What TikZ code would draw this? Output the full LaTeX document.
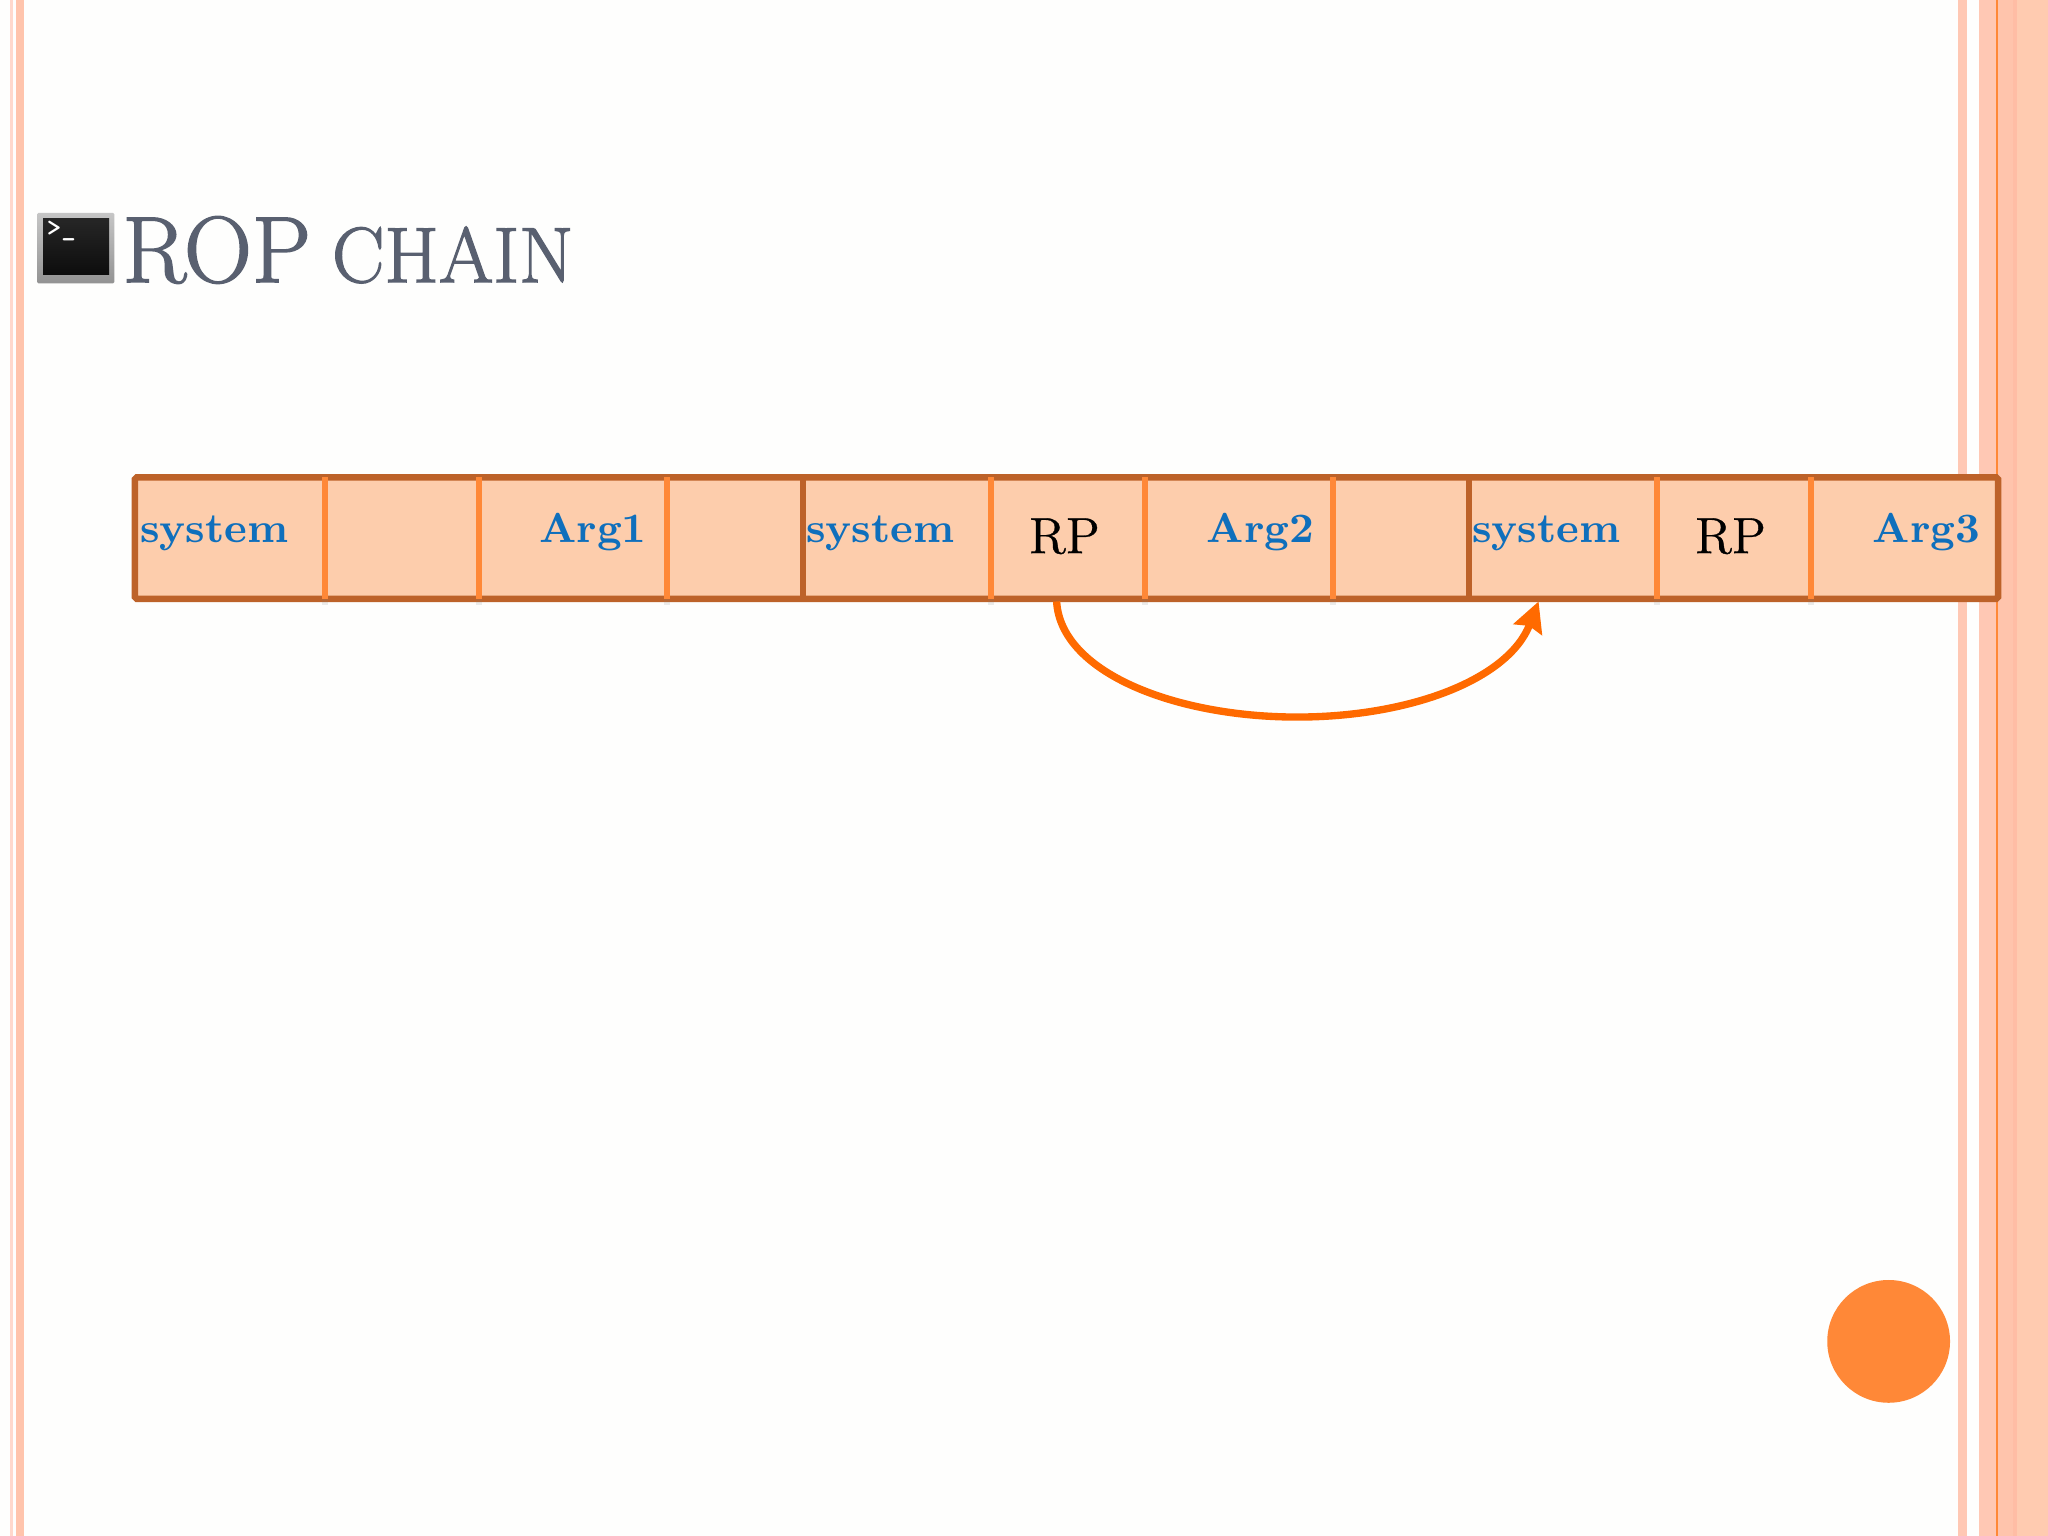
\documentclass[tikz,border=0pt]{standalone}
\usepackage{fontspec}
\usetikzlibrary{arrows.meta}
\newfontfamily\heavyfont[FakeBold=1.6]{Latin Modern Roman}
\newfontfamily\rpfont[FakeBold=.6]{Latin Modern Roman}
\definecolor{stripe}{HTML}{FFC8B4}
\definecolor{stripepale}{HTML}{FFD8CC}
\definecolor{stripedeep}{HTML}{FFC4AC}
\definecolor{stripeband}{HTML}{FFBDA5}
\definecolor{stripewide}{HTML}{FFCBB0}
\definecolor{page}{HTML}{FEFEFD}
\definecolor{cellfill}{HTML}{FDCDAC}
\definecolor{cellborder}{HTML}{BD6229}
\definecolor{divider}{HTML}{FF8837}
\definecolor{jump}{HTML}{FF6A00}
\definecolor{argblue}{HTML}{0F6FBC}
\definecolor{titlegray}{HTML}{596070}
\tikzset{
  cell/.style={inner sep=0pt,fill=cellfill,minimum height=.915cm},
  argtext/.style={anchor=base,text=argblue,font=\fontsize{9.1}{11}\bfseries\selectfont},
  rptext/.style={anchor=base,text=black,font=\rpfont\fontsize{11.1}{13}\selectfont},
  divline/.style={divider,line width=1.4pt},
  jumpline/.style={jump,line width=1.6pt,-{Stealth[length=6.5pt,width=6.5pt,inset=.8pt]}},
}
\begin{document}
\begin{tikzpicture}[x=.01cm,y=-.01cm]
        \fill[page] (0,0) rectangle (1568,1176);
        \useasboundingbox (0,0) rectangle (1568,1176);
        % side stripes
        \fill[stripepale] (7.7,0) rectangle (10,1176);
        \fill[stripedeep] (12.2,0) rectangle (18.4,1176);
        \fill[stripe] (1499,0) rectangle (1506,1176);
        \fill[stripe] (1515.5,0) rectangle (1528,1176);
        \fill[stripedeep] (1529.5,0) rectangle (1541,1176);
        \fill[stripeband] (1541,0) rectangle (1544,1176);
        \fill[stripewide] (1544,0) rectangle (1568,1176);
        \fill[divider] (1528,0) rectangle (1529.5,1176);
        % title
        \shade[top color=gray!45,bottom color=gray!85,rounded corners=.3pt] (28.5,163) rectangle (87.5,217);
        \shade[top color=black!85,bottom color=black!95] (33,167) rectangle (83.5,210.5);
        \node[anchor=base,text=white,inner sep=0pt,font=\ttfamily\bfseries\fontsize{6}{7}\selectfont] (prompt) at (47,181) {>\_};
        \node[anchor=base west,inner sep=0pt,text=titlegray] (title) at (93,216)
          {\heavyfont\fontsize{20.5}{24}\selectfont ROP\hspace{4.6pt}\fontsize{17.1}{24}\selectfont CHAIN};
        % cells
        \foreach \l/\r/\n in {104/248/a,248/366/b,366/510/c,510/614/d,614/758/e,758/876/f,876/1020/g,1020/1124/h,1124/1268/i,1268/1386/j,1386/1529/k}
          \node[cell,minimum width={(\r-\l)*.1mm}] (\n) at ({(\l+\r)/2},412) {};
        \draw[cellborder,line width=1.4pt,rounded corners=.4pt] (a.north west) rectangle (k.south east);
        \foreach \n in {d,h}
          \draw[cellborder,line width=1.3pt] (\n.north east) -- (\n.south east);
        \foreach \n in {a,b,c,e,f,g,i,j} {
          \draw[gray,opacity=.15,line width=1.4pt] ([yshift=-.03cm]\n.north east) -- ([yshift=-.05cm]\n.south east);
          \draw[divline] (\n.north east) -- (\n.south east);
        }
        % labels
        \node[argtext] (sysa) at (164,415) {system};
        \node[argtext] (arga) at (454,415) {Arg1};
        \node[argtext] (sysb) at (674,415) {system};
        \node[rptext] (rpa) at (815,423.5) {RP};
        \node[argtext] (argb) at (965,415) {Arg2};
        \node[argtext] (sysc) at (1184,415) {system};
        \node[rptext] (rpb) at (1325,423.5) {RP};
        \node[argtext] (argc) at (1475,415) {Arg3};
        % jump
        \coordinate (low) at (993,549);
        \draw[jumpline] ([xshift=-.08cm,yshift=-.02cm]f.south) .. controls (812,515) and (900,549) .. (low)
          .. controls (1080,549) and (1155,520) .. ([xshift=-.18cm,yshift=-.02cm]i.south);
        % circle
        \fill[divider] (1446,1027) circle[radius=47];
\end{tikzpicture}
\end{document}
